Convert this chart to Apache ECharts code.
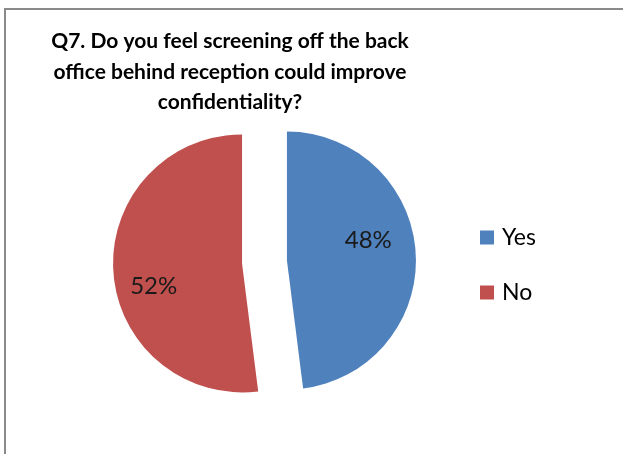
<!DOCTYPE html>
<html>
<head>
<meta charset="utf-8">
<script src="https://cdn.jsdelivr.net/npm/echarts@6/dist/echarts.min.js"></script>
<style>
  html, body { margin: 0; padding: 0; background: #fff; }
  #chart { width: 623px; height: 454px; }
</style>
</head>
<body>
<div id="chart"></div>
<script>
// Survey answers, shares in percent
const categories = ['Yes', 'No'];
const shares = [48, 52];
const colors = ['#4F81BD', '#C0504D'];
// Nudge of each percentage label from the slice's default inside spot
const labelOffsets = [[14, -16], [-21, 19]];

const titleText = 'Q7. Do you feel screening off the back\noffice behind reception could improve\nconfidentiality?';

const chart = echarts.init(document.getElementById('chart'), null, { renderer: 'canvas' });

chart.setOption({
  animation: false,
  backgroundColor: '#ffffff',
  title: {
    text: titleText,
    left: 225,
    top: 21,
    textAlign: 'center',
    textStyle: {
      fontFamily: 'Lato',
      fontWeight: 'bold',
      fontSize: 21,
      lineHeight: 30.5,
      color: '#000000'
    }
  },
  legend: {
    orient: 'vertical',
    left: 480,
    top: 226,
    padding: 0,
    icon: 'rect',
    itemWidth: 14,
    itemHeight: 14,
    itemGap: 32,
    selectedMode: false,
    data: categories,
    textStyle: {
      fontFamily: 'Lato',
      fontSize: 23,
      lineHeight: 22,
      color: '#000000',
      padding: [0, 0, 0, 3]
    }
  },
  graphic: [{
    type: 'rect',
    silent: true,
    shape: { x: 5, y: 9, width: 700, height: 600 },
    style: { fill: 'none', stroke: '#8a8a8a', lineWidth: 2 }
  }],
  series: [{
    type: 'pie',
    center: [264.5, 262],
    radius: 129,
    startAngle: 90,
    clockwise: true,
    selectedMode: 'multiple',
    selectedOffset: 22.5,
    avoidLabelOverlap: false,
    emphasis: { disabled: true },
    label: {
      show: true,
      position: 'inside',
      formatter: '{d}%',
      fontFamily: 'Lato',
      fontSize: 24,
      color: '#1a1a1a'
    },
    labelLine: { show: false },
    labelLayout: function (params) {
      const o = labelOffsets[params.dataIndex];
      return { dx: o[0], dy: o[1] };
    },
    data: categories.map((name, i) => ({
      name: name,
      value: shares[i],
      selected: true,
      itemStyle: { color: colors[i] }
    }))
  }]
});
</script>
</body>
</html>
